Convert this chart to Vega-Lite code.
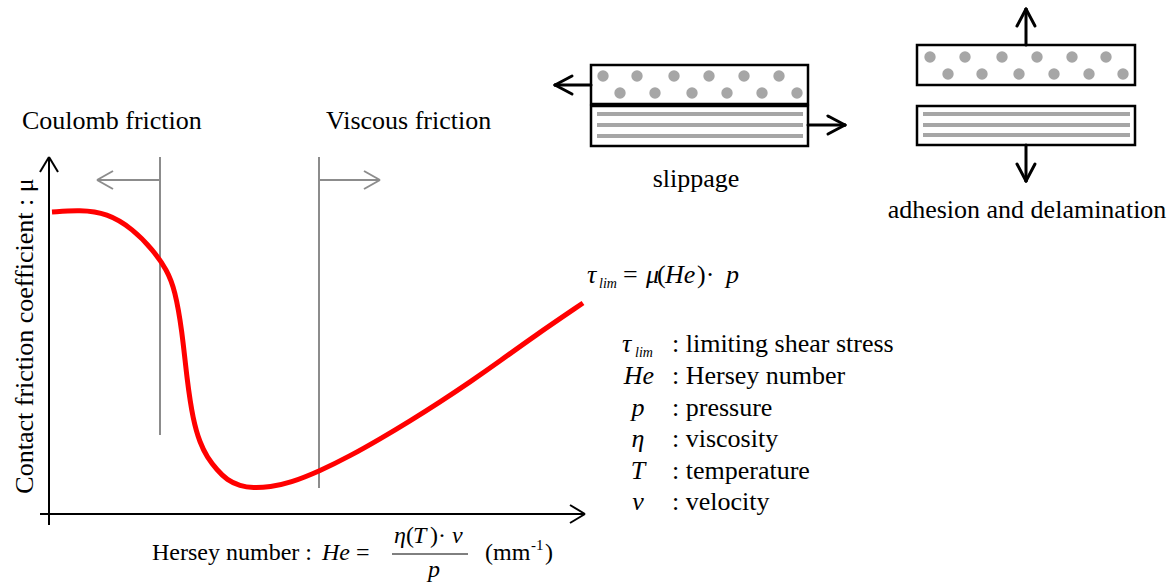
{
  "$schema": "https://vega.github.io/schema/vega-lite/v6.json",
  "width": 1172,
  "height": 585,
  "autosize": {"type": "fit", "contains": "padding"},
  "padding": 0,
  "background": "white",
  "config": {"view": {"stroke": null}, "text": {"font": "'Liberation Serif', 'Times New Roman', Times, 'DejaVu Serif', serif"}},
  "encoding": {
    "x": {"field": "x", "type": "quantitative", "scale": {"domain": [0, 1172], "nice": false, "zero": false}, "axis": null},
    "y": {"field": "y", "type": "quantitative", "scale": {"domain": [0, 585], "nice": false, "zero": false, "reverse": true}, "axis": null}
  },
  "layer": [
    {
      "data": {"values": [
        {"x": 160, "y": 157, "x2": 160, "y2": 435},
        {"x": 319, "y": 157, "x2": 319, "y2": 488},
        {"x": 160, "y": 180, "x2": 97, "y2": 180},
        {"x": 97, "y": 180, "x2": 113, "y2": 171},
        {"x": 97, "y": 180, "x2": 113, "y2": 189},
        {"x": 319, "y": 180, "x2": 380, "y2": 180},
        {"x": 380, "y": 180, "x2": 364, "y2": 171},
        {"x": 380, "y": 180, "x2": 364, "y2": 189}
      ]},
      "mark": {"type": "rule", "color": "#8c8c8c", "strokeWidth": 2},
      "encoding": {"x2": {"field": "x2"}, "y2": {"field": "y2"}}
    },
    {
      "data": {"values": [
        {"x": 49, "y": 525, "x2": 49, "y2": 157},
        {"x": 49, "y": 157, "x2": 40, "y2": 172},
        {"x": 49, "y": 157, "x2": 58, "y2": 172},
        {"x": 40, "y": 514, "x2": 585, "y2": 514},
        {"x": 585, "y": 514, "x2": 570, "y2": 505},
        {"x": 585, "y": 514, "x2": 570, "y2": 523}
      ]},
      "mark": {"type": "rule", "color": "black", "strokeWidth": 2},
      "encoding": {"x2": {"field": "x2"}, "y2": {"field": "y2"}}
    },
    {
      "data": {"values": [
        {"x": 52, "y": 212}, {"x": 80, "y": 210}, {"x": 107, "y": 213}, {"x": 133, "y": 229},
        {"x": 153, "y": 250}, {"x": 167, "y": 270}, {"x": 175, "y": 290}, {"x": 182, "y": 330},
        {"x": 187, "y": 380}, {"x": 193, "y": 420}, {"x": 200, "y": 443}, {"x": 207, "y": 457},
        {"x": 217, "y": 470}, {"x": 227, "y": 480}, {"x": 240, "y": 486}, {"x": 253, "y": 488},
        {"x": 270, "y": 487}, {"x": 290, "y": 483}, {"x": 320, "y": 471}, {"x": 350, "y": 456},
        {"x": 380, "y": 439}, {"x": 410, "y": 421}, {"x": 440, "y": 402}, {"x": 470, "y": 382},
        {"x": 500, "y": 361}, {"x": 533, "y": 337}, {"x": 583, "y": 303}
      ]},
      "mark": {"type": "line", "color": "#ff0000", "strokeWidth": 5, "interpolate": "basis"},
      "encoding": {}
    },
    {
      "data": {"values": [
        {"x": 591, "y": 65, "x2": 808, "y2": 104},
        {"x": 591, "y": 106, "x2": 808, "y2": 146},
        {"x": 917, "y": 45, "x2": 1135, "y2": 85},
        {"x": 917, "y": 106, "x2": 1135, "y2": 145}
      ]},
      "mark": {"type": "rect", "fill": "white", "stroke": "black", "strokeWidth": 2.5},
      "encoding": {"x2": {"field": "x2"}, "y2": {"field": "y2"}}
    },
    {
      "data": {"values": [
        {"x": 597, "y": 114, "x2": 803, "y2": 114},
        {"x": 597, "y": 125, "x2": 803, "y2": 125},
        {"x": 597, "y": 136, "x2": 803, "y2": 136},
        {"x": 923, "y": 114, "x2": 1130, "y2": 114},
        {"x": 923, "y": 125, "x2": 1130, "y2": 125},
        {"x": 923, "y": 135, "x2": 1130, "y2": 135}
      ]},
      "mark": {"type": "rule", "color": "#a6a6a6", "strokeWidth": 4},
      "encoding": {"x2": {"field": "x2"}, "y2": {"field": "y2"}}
    },
    {
      "data": {"values": [
        {"x": 603, "y": 76}, {"x": 637, "y": 76}, {"x": 674, "y": 76}, {"x": 709, "y": 76}, {"x": 744, "y": 76}, {"x": 779, "y": 76},
        {"x": 620, "y": 93}, {"x": 655, "y": 93}, {"x": 692, "y": 93}, {"x": 727, "y": 93}, {"x": 762, "y": 93}, {"x": 797, "y": 93},
        {"x": 930, "y": 57}, {"x": 965, "y": 57}, {"x": 1002, "y": 57}, {"x": 1037, "y": 57}, {"x": 1072, "y": 57}, {"x": 1106, "y": 57},
        {"x": 948, "y": 74}, {"x": 982, "y": 74}, {"x": 1019, "y": 74}, {"x": 1054, "y": 74}, {"x": 1089, "y": 74}, {"x": 1123, "y": 74}
      ]},
      "mark": {"type": "point", "filled": true, "color": "#a6a6a6", "opacity": 1, "size": 130},
      "encoding": {}
    },
    {
      "data": {"values": [
        {"x": 591, "y": 85, "x2": 555, "y2": 85},
        {"x": 555, "y": 85, "x2": 572, "y2": 76},
        {"x": 555, "y": 85, "x2": 572, "y2": 94},
        {"x": 808, "y": 125, "x2": 845, "y2": 125},
        {"x": 845, "y": 125, "x2": 828, "y2": 116},
        {"x": 845, "y": 125, "x2": 828, "y2": 134},
        {"x": 1026, "y": 45, "x2": 1026, "y2": 9},
        {"x": 1026, "y": 9, "x2": 1017, "y2": 26},
        {"x": 1026, "y": 9, "x2": 1035, "y2": 26},
        {"x": 1026, "y": 145, "x2": 1026, "y2": 181},
        {"x": 1026, "y": 181, "x2": 1017, "y2": 164},
        {"x": 1026, "y": 181, "x2": 1035, "y2": 164}
      ]},
      "mark": {"type": "rule", "color": "black", "strokeWidth": 3, "strokeCap": "round"},
      "encoding": {"x2": {"field": "x2"}, "y2": {"field": "y2"}}
    },
    {
      "data": {"values": [
        {"x": 392, "y": 554, "x2": 468, "y2": 554}
      ]},
      "mark": {"type": "rule", "color": "black", "strokeWidth": 1},
      "encoding": {"x2": {"field": "x2"}, "y2": {"field": "y2"}}
    },
    {
      "data": {"values": [
        {"x": 22, "y": 129, "t": "Coulomb friction"},
        {"x": 326, "y": 129, "t": "Viscous friction"},
        {"x": 672, "y": 352, "t": ": limiting shear stress"},
        {"x": 672, "y": 384, "t": ": Hersey number"},
        {"x": 672, "y": 416, "t": ": pressure"},
        {"x": 672, "y": 447, "t": ": viscosity"},
        {"x": 672, "y": 479, "t": ": temperature"},
        {"x": 672, "y": 510, "t": ": velocity"},
        {"x": 623, "y": 283, "t": "="},
        {"x": 657, "y": 283, "t": "("},
        {"x": 697, "y": 283, "t": ")·"}
      ]},
      "mark": {"type": "text", "fontSize": 26, "align": "left", "baseline": "alphabetic", "color": "black"},
      "encoding": {"text": {"field": "t"}}
    },
    {
      "data": {"values": [
        {"x": 696, "y": 187, "t": "slippage"},
        {"x": 1027, "y": 218, "t": "adhesion and delamination"}
      ]},
      "mark": {"type": "text", "fontSize": 26, "align": "center", "baseline": "alphabetic", "color": "black"},
      "encoding": {"text": {"field": "t"}}
    },
    {
      "data": {"values": [
        {"x": 587, "y": 283, "t": "τ"},
        {"x": 646, "y": 283, "t": "μ"},
        {"x": 665, "y": 283, "t": "He"},
        {"x": 726, "y": 283, "t": "p"},
        {"x": 622, "y": 352, "t": "τ"}
      ]},
      "mark": {"type": "text", "fontSize": 26, "fontStyle": "italic", "align": "left", "baseline": "alphabetic", "color": "black"},
      "encoding": {"text": {"field": "t"}}
    },
    {
      "data": {"values": [
        {"x": 599, "y": 288, "t": "lim"},
        {"x": 635, "y": 357, "t": "lim"}
      ]},
      "mark": {"type": "text", "fontSize": 14, "fontStyle": "italic", "align": "left", "baseline": "alphabetic", "color": "black"},
      "encoding": {"text": {"field": "t"}}
    },
    {
      "data": {"values": [
        {"x": 639, "y": 384, "t": "He"},
        {"x": 638, "y": 416, "t": "p"},
        {"x": 638, "y": 447, "t": "η"},
        {"x": 638, "y": 479, "t": "T"},
        {"x": 638, "y": 510, "t": "v"}
      ]},
      "mark": {"type": "text", "fontSize": 26, "fontStyle": "italic", "align": "center", "baseline": "alphabetic", "color": "black"},
      "encoding": {"text": {"field": "t"}}
    },
    {
      "data": {"values": [
        {"x": 152, "y": 560, "t": "Hersey number :"},
        {"x": 356, "y": 560, "t": "="},
        {"x": 406, "y": 543, "t": "("},
        {"x": 430, "y": 543, "t": ")·"},
        {"x": 485, "y": 560, "t": "(mm"},
        {"x": 545, "y": 560, "t": ")"}
      ]},
      "mark": {"type": "text", "fontSize": 24, "align": "left", "baseline": "alphabetic", "color": "black"},
      "encoding": {"text": {"field": "t"}}
    },
    {
      "data": {"values": [
        {"x": 531, "y": 550, "t": "-1"}
      ]},
      "mark": {"type": "text", "fontSize": 15, "align": "left", "baseline": "alphabetic", "color": "black"},
      "encoding": {"text": {"field": "t"}}
    },
    {
      "data": {"values": [
        {"x": 322, "y": 560, "t": "He"},
        {"x": 394, "y": 543, "t": "η"},
        {"x": 413, "y": 543, "t": "T"},
        {"x": 452, "y": 543, "t": "v"},
        {"x": 428, "y": 577, "t": "p"}
      ]},
      "mark": {"type": "text", "fontSize": 24, "fontStyle": "italic", "align": "left", "baseline": "alphabetic", "color": "black"},
      "encoding": {"text": {"field": "t"}}
    },
    {
      "data": {"values": [
        {"x": 33, "y": 336, "t": "Contact friction coefficient : μ"}
      ]},
      "mark": {"type": "text", "fontSize": 26, "angle": 270, "align": "center", "baseline": "alphabetic", "color": "black"},
      "encoding": {"text": {"field": "t"}}
    }
  ]
}
